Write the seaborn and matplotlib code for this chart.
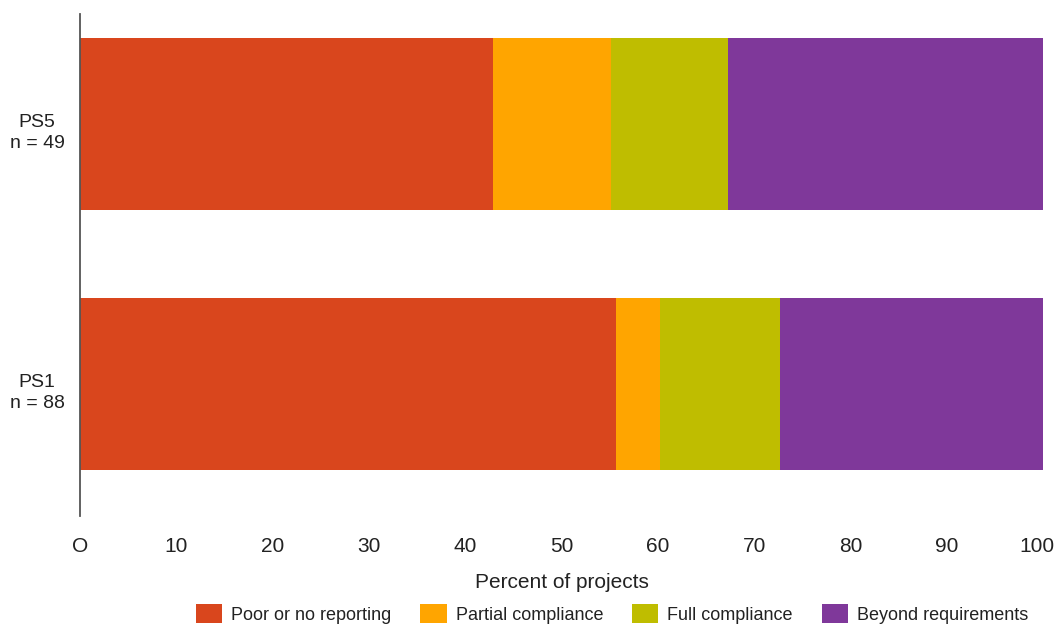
import numpy as np
import pandas as pd
import seaborn as sns
from matplotlib import pyplot as plt
from matplotlib.patches import Patch
from matplotlib.transforms import ScaledTranslation

groups = ['PS5\nn = 49', 'PS1\nn = 88']
categories = ['Poor or no reporting', 'Partial compliance', 'Full compliance', 'Beyond requirements']
poor = [42.9, 55.7]
partial = [12.2, 4.5]
full = [12.2, 12.5]
beyond = [32.7, 27.3]
colors = ['#D9461D', '#FFA500', '#BFBD00', '#7F389A']
xticks = list(range(0, 101, 10))
xticklabels = ['O'] + [str(v) for v in xticks[1:]]


def stacked_df():
    df = pd.DataFrame({'group': groups, categories[0]: poor, categories[1]: partial,
                       categories[2]: full, categories[3]: beyond})
    cum = df[categories].cumsum(axis=1)
    cum['group'] = df['group']
    return cum


def plot(cum):
    sns.set_style('white')
    plt.rcParams['font.family'] = ['Liberation Sans', 'DejaVu Sans']
    txt = '#222222'

    fig = plt.figure(figsize=(10.56, 6.25), dpi=100)
    ax = fig.add_axes([80 / 1056, 1 - 516 / 625, (1043 - 80) / 1056, 502 / 625])

    # draw the largest cumulative first so the smaller ones sit on top
    for cat, col in reversed(list(zip(categories, colors))):
        sns.barplot(data=cum, x=cat, y='group', orient='h', color=col,
                    width=0.66, ax=ax, saturation=1, linewidth=0, edgecolor='none')

    ax.set_xlim(0, 100)
    ax.set_ylim(1.508, -0.423)
    ax.set_xticks(xticks)
    ax.set_xticklabels(xticklabels, fontsize=15, color=txt)
    ax.set_xlabel('Percent of projects', fontsize=15, color=txt, labelpad=12)
    ax.set_ylabel('')
    ax.tick_params(axis='x', length=0, pad=15)
    ax.tick_params(axis='y', labelsize=14, labelcolor=txt, length=0, pad=31)
    down = ScaledTranslation(0, -5 / 100, fig.dpi_scale_trans)
    for lab in ax.get_yticklabels():
        lab.set_horizontalalignment('center')
        lab.set_verticalalignment('center_baseline')
        lab.set_linespacing(1.3)
        lab.set_transform(lab.get_transform() + down)

    # keep the last tick label inside the figure
    last = ax.get_xticklabels()[-1]
    last.set_transform(last.get_transform() + ScaledTranslation(-6 / 100, 0, fig.dpi_scale_trans))

    for s in ['top', 'right', 'bottom']:
        ax.spines[s].set_visible(False)
    ax.spines['left'].set_color('#555555')
    ax.spines['left'].set_linewidth(1.3)

    handles = [Patch(facecolor=c, edgecolor='none', label=l) for l, c in zip(categories, colors)]
    fig.legend(handles=handles, loc='center', bbox_to_anchor=(612 / 1056, 1 - 614 / 625),
               ncol=4, frameon=False, fontsize=13, handlelength=1.45, handleheight=1.25,
               handletextpad=0.5, columnspacing=1.6, labelcolor=txt)

    fig.savefig('out.png', dpi=100)


plot(stacked_df())
